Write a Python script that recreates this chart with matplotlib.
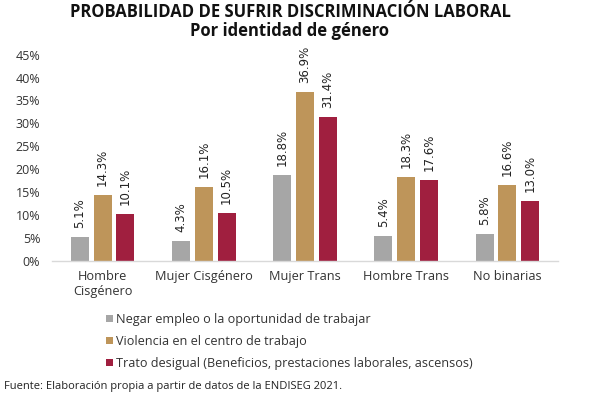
import matplotlib
matplotlib.use("Agg")
import matplotlib.pyplot as plt
import numpy as np
from matplotlib.patches import Patch

categories = ["Hombre\nCisgénero", "Mujer Cisgénero", "Mujer Trans", "Hombre Trans", "No binarias"]
series_names = [
    "Negar empleo o la oportunidad de trabajar",
    "Violencia en el centro de trabajo",
    "Trato desigual (Beneficios, prestaciones laborales, ascensos)",
]
negar = [5.1, 4.3, 18.8, 5.4, 5.8]
violencia = [14.3, 16.1, 36.9, 18.3, 16.6]
trato = [10.1, 10.5, 31.4, 17.6, 13.0]
colors = ["#A6A6A6", "#BE955A", "#A01F3F"]
yticks = [0, 5, 10, 15, 20, 25, 30, 35, 40, 45]

FONT = "Open Sans"
fig = plt.figure(figsize=(6.04, 3.98), dpi=100)
ax = fig.add_axes([52/604, 1-260.7/398, 506/604, (260.7-54.7)/398])

x = np.arange(len(categories))
w = 0.178
off = 0.225
for i, (vals, c) in enumerate(zip([negar, violencia, trato], colors)):
    bars = ax.bar(x + (i-1)*off, vals, width=w, color=c)
    for b, v in zip(bars, vals):
        ax.annotate(f"{v:.1f}%", (b.get_x()+b.get_width()/2, v), xytext=(0, 6.5),
                    textcoords="offset points", rotation=90, ha="center", va="bottom",
                    fontsize=8.5, family="DejaVu Sans", color="#222222")

ax.set_xlim(-0.5, len(categories)-0.5)
ax.set_ylim(0, 45)
ax.set_yticks(yticks)
ax.set_yticklabels([f"{t}%" for t in yticks], family=FONT, fontsize=9, color="#333333")
ax.set_xticks(x)
ax.set_xticklabels(categories, family=FONT, fontsize=9.2, color="#333333", linespacing=1.15)
ax.tick_params(axis="both", length=0)
ax.tick_params(axis="y", pad=8.5)
ax.tick_params(axis="x", pad=7)
for s in ["top", "right", "left"]:
    ax.spines[s].set_visible(False)
ax.spines["bottom"].set_color("#D9D9D9")
ax.spines["bottom"].set_linewidth(1)

fig.text(290/604, 1-12/398, "PROBABILIDAD DE SUFRIR DISCRIMINACIÓN LABORAL",
         ha="center", va="center", family=FONT, fontsize=12, fontweight="bold", color="#111111")
fig.text(290/604, 1-30.5/398, "Por identidad de género",
         ha="center", va="center", family=FONT, fontsize=12, fontweight="bold", color="#111111")

handles = [Patch(facecolor=c, edgecolor="none") for c in colors]
leg = fig.legend(handles, series_names, loc="upper left", bbox_to_anchor=(95/604, 1-301.5/398),
                 frameon=False, prop={"family": FONT, "size": 9.1}, handlelength=0.5,
                 handleheight=0.5, handletextpad=0.25, labelspacing=0.72)
for t in leg.get_texts():
    t.set_color("#333333")

fig.text(4/604, 1-386/398, "Fuente: Elaboración propia a partir de datos de la ENDISEG 2021.",
         ha="left", va="center", family=FONT, fontsize=8, color="#222222")

fig.savefig("out.png", dpi=100, facecolor="white")
